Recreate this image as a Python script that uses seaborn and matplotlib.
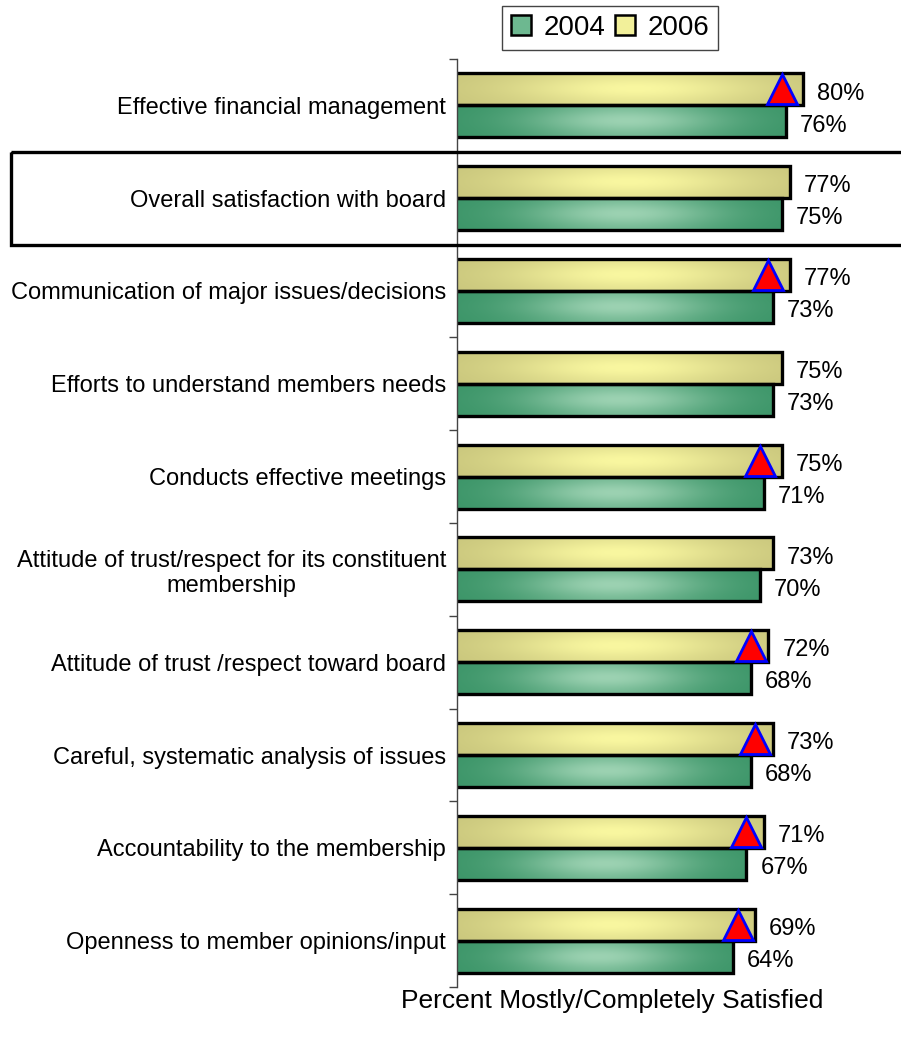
import matplotlib
matplotlib.use('Agg')
import matplotlib.pyplot as plt
import matplotlib.transforms as mtransforms
from matplotlib.patches import Rectangle
import numpy as np
import pandas as pd
import seaborn as sns

# Datos del grafico
categories = [
    'Effective financial management',
    'Overall satisfaction with board',
    'Communication of major issues/decisions',
    'Efforts to understand members needs',
    'Conducts effective meetings',
    'Attitude of trust/respect for its constituent\nmembership',
    'Attitude of trust /respect toward board',
    'Careful, systematic analysis of issues',
    'Accountability to the membership',
    'Openness to member opinions/input',
]
pct_2006 = [80, 77, 77, 75, 75, 73, 72, 73, 71, 69]
pct_2004 = [76, 75, 73, 73, 71, 70, 68, 68, 67, 64]
# triangulos rojos (valor de referencia) sobre las barras de 2006
benchmark = [75, None, 72, None, 70, None, 68, 69, 67, 65]
legend_years = ['2004', '2006']
highlight_row = 'Overall satisfaction with board'

sns.set_style('white')
plt.rcParams['font.family'] = ['Liberation Sans', 'DejaVu Sans']
plt.rcParams['text.color'] = 'black'
plt.rcParams['axes.labelcolor'] = 'black'
plt.rcParams['ytick.labelcolor'] = 'black'

df = pd.DataFrame({
    'category': categories * 2,
    'year': ['2006'] * len(categories) + ['2004'] * len(categories),
    'value': pct_2006 + pct_2004,
})

colors = {'2004': ('#3A9467', '#9CD2B2'), '2006': ('#C7C47B', '#F9F7A0')}


def gradient(dark, light, nx=200, ny=24, spread=0.3):
    d = np.array(matplotlib.colors.to_rgb(dark))
    l = np.array(matplotlib.colors.to_rgb(light))
    tx = np.linspace(0, 1, nx)
    ty = np.linspace(0, 1, ny)
    hx = np.exp(-((tx - 0.52) / spread) ** 2)
    hy = 0.55 + 0.45 * np.exp(-((ty - 0.5) / 0.35) ** 2)
    h = hy[:, None] * hx[None, :]
    return d + (l - d) * h[:, :, None]


fig = plt.figure(figsize=(9.01, 10.39), dpi=100)
ax = fig.add_axes([457 / 901, 1 - 987 / 1039, 434 / 901, 928 / 1039])

sns.barplot(data=df, y='category', x='value', hue='year',
            hue_order=['2006', '2004'], order=categories,
            palette={k: v[0] for k, v in colors.items()},
            width=0.69, saturation=1, edgecolor='black', linewidth=2.4,
            legend=False, orient='h', ax=ax)

# Relleno degradado dentro de cada barra + etiquetas de porcentaje
for cont, yr in zip(ax.containers, ['2006', '2004']):
    img = gradient(*colors[yr], spread=0.36 if yr == '2006' else 0.3)
    for bar in cont:
        x0, y0 = bar.get_x(), bar.get_y()
        w, h = bar.get_width(), bar.get_height()
        ax.imshow(img, extent=(x0, x0 + w, y0 + h, y0), aspect='auto',
                  zorder=bar.get_zorder() - 0.01, interpolation='bilinear')
        bar.set_facecolor('none')
        ax.annotate(f'{w:.0f}%', (x0 + w, y0 + h / 2), xytext=(10, -3),
                    textcoords='offset points', ha='left', va='center',
                    fontsize=17)

# Triangulos de referencia
for bar, b in zip(ax.containers[0], benchmark):
    if b is None:
        continue
    ax.plot(b, bar.get_y() + bar.get_height() / 2, marker='^', ms=21,
            mfc='red', mec='blue', mew=2, zorder=5)

ax.set_xlim(0.9, 100)
ax.set_ylim(len(categories) - 0.5, -0.5)
ax.set_xticks([])
ax.set_yticks(np.arange(-0.5, len(categories), 1), minor=True)
ax.tick_params(axis='y', which='major', length=0, pad=8, labelsize=17)
ax.tick_params(axis='y', which='minor', length=6, width=1, color='#444444', left=True)
for lbl in ax.get_yticklabels():
    lbl.set_multialignment('center')
ax.set_ylabel('')
for s in ['top', 'right', 'bottom']:
    ax.spines[s].set_visible(False)
ax.spines['left'].set_color('#444444')
ax.spines['left'].set_linewidth(1)

ax.set_xlabel('Percent Mostly/Completely Satisfied', fontsize=19)
ax.xaxis.set_label_coords(0.357, -0.002)

# Recuadro alrededor de la fila destacada
idx = categories.index(highlight_row)
trans = mtransforms.blended_transform_factory(fig.transFigure, ax.transData)
box = Rectangle((11 / 901, idx - 0.5), 1.0, 1.0, transform=trans, fill=False,
                lw=2.4, ec='black', clip_on=False)
fig.add_artist(box)

# Leyenda
legend_fill = {'2004': '#6DB890', '2006': '#F2F09A'}
handles = [Rectangle((0, 0), 1, 1, fc=legend_fill[y], ec='black', lw=1.8)
           for y in legend_years]
leg = fig.legend(handles, legend_years, loc='upper center', ncol=2,
                 bbox_to_anchor=(610 / 901, 1 - 6 / 1039), fontsize=20,
                 frameon=True, fancybox=False, framealpha=1, edgecolor='#444444',
                 borderpad=0.32, handlelength=0.72, handleheight=0.72,
                 handletextpad=0.45, columnspacing=0.35, borderaxespad=0)
leg.get_frame().set_linewidth(1)

fig.savefig('out.png', dpi=100)
